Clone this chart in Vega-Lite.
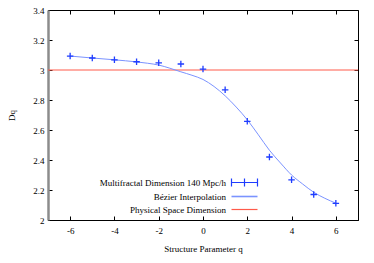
{
  "$schema": "https://vega.github.io/schema/vega-lite/v6.json",
  "width": 310,
  "height": 210,
  "autosize": "none",
  "padding": {"left": 48, "top": 10, "right": 16, "bottom": 43},
  "background": "white",
  "config": {
    "font": "Liberation Serif",
    "view": {"stroke": "#000", "strokeWidth": 1},
    "axis": {
      "grid": false,
      "labelFont": "Liberation Serif",
      "titleFont": "Liberation Serif",
      "labelFontSize": 9,
      "titleFontSize": 9,
      "titleFontWeight": "normal",
      "labelColor": "#000",
      "titleColor": "#000",
      "tickColor": "#000",
      "domainColor": "#000",
      "tickSize": -4
    }
  },
  "datasets": {
    "points": [
      {"q": -6, "D": 3.093},
      {"q": -5, "D": 3.080},
      {"q": -4, "D": 3.068},
      {"q": -3, "D": 3.055},
      {"q": -2, "D": 3.048},
      {"q": -1, "D": 3.040},
      {"q": 0, "D": 3.006},
      {"q": 1, "D": 2.868},
      {"q": 2, "D": 2.658},
      {"q": 3, "D": 2.420},
      {"q": 4, "D": 2.268},
      {"q": 5, "D": 2.170},
      {"q": 6, "D": 2.111}
    ],
    "curve": [
      {"q": -6, "D": 3.093},
      {"q": -5, "D": 3.080},
      {"q": -4, "D": 3.068},
      {"q": -3, "D": 3.054},
      {"q": -2.5, "D": 3.045},
      {"q": -2, "D": 3.033},
      {"q": -1.5, "D": 3.012},
      {"q": -1, "D": 2.988},
      {"q": -0.5, "D": 2.965},
      {"q": 0, "D": 2.937},
      {"q": 0.5, "D": 2.89},
      {"q": 1, "D": 2.828},
      {"q": 1.5, "D": 2.753},
      {"q": 2, "D": 2.668},
      {"q": 2.5, "D": 2.568},
      {"q": 3, "D": 2.465},
      {"q": 3.5, "D": 2.38},
      {"q": 4, "D": 2.3},
      {"q": 4.5, "D": 2.24},
      {"q": 5, "D": 2.185},
      {"q": 5.5, "D": 2.145},
      {"q": 6, "D": 2.112}
    ],
    "physical": [{"D": 3}]
  },
  "resolve": {"axis": {"x": "independent", "y": "independent"}},
  "layer": [
    {
      "data": {"name": "physical"},
      "mark": {"type": "rule", "strokeWidth": 1},
      "encoding": {
        "y": {"field": "D", "type": "quantitative", "scale": {"domain": [2, 3.4], "nice": false}, "axis": null},
        "color": {"datum": "Physical Space Dimension", "type": "nominal"}
      }
    },
    {
      "data": {"name": "curve"},
      "mark": {"type": "line", "interpolate": "monotone", "strokeWidth": 1},
      "encoding": {
        "x": {
          "field": "q", "type": "quantitative",
          "scale": {"domain": [-7, 7], "nice": false, "zero": false},
          "axis": {"values": [-6, -4, -2, 0, 2, 4, 6], "title": "Structure Parameter q", "labelPadding": 10, "titlePadding": 9, "labelExpr": "datum.value + ''"}
        },
        "y": {
          "field": "D", "type": "quantitative",
          "scale": {"domain": [2, 3.4], "nice": false, "zero": false},
          "axis": {"values": [2, 2.2, 2.4, 2.6, 2.8, 3, 3.2, 3.4], "title": "Dq", "labelPadding": 8, "domainColor": "#8c8c8c", "domainWidth": 2.5, "titlePadding": 16, "labelExpr": "format(datum.value, '.2~f')"}
        },
        "color": {
          "datum": "Bézier Interpolation", "type": "nominal",
          "scale": {
            "domain": ["Multifractal Dimension 140 Mpc/h", "Bézier Interpolation", "Physical Space Dimension"],
            "range": ["#1f3dff", "#7b93ff", "#ff5a4a"]
          },
          "legend": {
            "title": null,
            "orient": "none",
            "legendX": 192,
            "legendY": 168,
            "padding": 0,
            "labelFont": "Liberation Serif",
            "labelFontSize": 9,
            "labelColor": "#000",
            "labelAlign": "right",
            "labelOffset": -23,
            "labelLimit": 300,
            "symbolSize": 676,
            "symbolStrokeWidth": 1,
            "rowPadding": 3,
            "symbolType": "M-1,0H1",
            "encode": {
              "symbols": {
                "update": {
                  "shape": {"signal": "datum.value === 'Multifractal Dimension 140 Mpc/h' ? 'M-1,0H1M-1,-0.3V0.3M1,-0.3V0.3M0,-0.3V0.3' : 'M-1,0H1'"},
                  "fill": {"value": "transparent"},
                  "strokeWidth": {"signal": "datum.value === 'Bézier Interpolation' ? 1.6 : 1.2"}
                }
              }
            }
          }
        }
      }
    },
    {
      "data": {"name": "points"},
      "mark": {"type": "point", "shape": "M-1,0H1M0,-1V1", "filled": false, "size": 42, "strokeWidth": 1.3, "opacity": 1},
      "encoding": {
        "x": {"field": "q", "type": "quantitative", "axis": {"orient": "top", "values": [-6, -4, -2, 0, 2, 4, 6], "labels": false, "title": null, "domain": false}},
        "y": {"field": "D", "type": "quantitative", "axis": {"orient": "right", "values": [2, 2.2, 2.4, 2.6, 2.8, 3, 3.2, 3.4], "labels": false, "title": null, "domain": false}},
        "color": {"datum": "Multifractal Dimension 140 Mpc/h", "type": "nominal"}
      }
    }
  ]
}
